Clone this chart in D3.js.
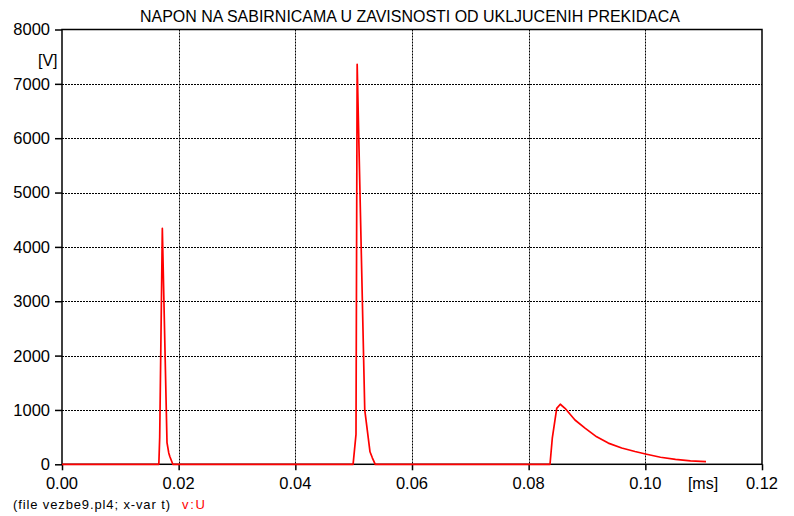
<!DOCTYPE html>
<html>
<head>
<meta charset="utf-8">
<script src="https://cdn.jsdelivr.net/npm/d3@7"></script>
<style>
  html, body { margin: 0; padding: 0; background: #fff; }
  svg { display: block; }
  text { font-family: "Liberation Sans", Arial, sans-serif; fill: #000; }
</style>
</head>
<body>
<svg id="chart" width="794" height="516"></svg>
<script>
// Bus voltage v:U versus time (EMTP plot file vezbe9.pl4)
const titleText = "NAPON NA SABIRNICAMA U ZAVISNOSTI OD UKLJUCENIH PREKIDACA";
const footerText = "(file vezbe9.pl4; x-var t)";
const seriesName = "v:U";
const yUnit = "[V]";
const xUnit = "[ms]";

const xTicks = [0, 0.02, 0.04, 0.06, 0.08, 0.10, 0.12];
const xTickLabels = ["0.00", "0.02", "0.04", "0.06", "0.08", "0.10", "0.12"];
const yTicks = [0, 1000, 2000, 3000, 4000, 5000, 6000, 7000, 8000];

// time [ms]
const timeMs = [
  0, 0.0166, 0.01675, 0.0172, 0.0180, 0.0183, 0.0185, 0.0190,
  0.0499, 0.0504, 0.0506, 0.0519, 0.0528, 0.0532, 0.0537,
  0.08366, 0.08405, 0.08481, 0.08542, 0.08623, 0.08794, 0.08966, 0.09166,
  0.09365, 0.09595, 0.09823, 0.10003, 0.10260, 0.10517, 0.10774, 0.11040
];
// voltage [V]
const voltageV = [
  0, 0, 500, 4340, 400, 210, 140, 0,
  0, 550, 7360, 1000, 230, 120, 0,
  0, 480, 1030, 1105, 1030, 815, 665, 505,
  390, 300, 235, 190, 130, 90, 62, 48
];

const svg = d3.select("#chart");
const plotL = 62, plotR = 762, plotT = 29.5, plotB = 464.3;

const x = d3.scaleLinear().domain([0, 0.12]).range([plotL, plotR]);
const y = d3.scaleLinear().domain([0, 8000]).range([plotB, plotT]);

// dotted grid
svg.append("g")
  .selectAll("line")
  .data(xTicks.slice(1, -1))
  .join("line")
  .attr("x1", d => Math.round(x(d)) + 0.5).attr("x2", d => Math.round(x(d)) + 0.5)
  .attr("y1", plotT).attr("y2", plotB)
  .attr("stroke", "#000").attr("stroke-width", 1).attr("stroke-dasharray", "2,1");
svg.append("g")
  .selectAll("line")
  .data(yTicks.slice(1, -1))
  .join("line")
  .attr("x1", plotL).attr("x2", plotR)
  .attr("y1", d => Math.round(y(d)) + 0.5).attr("y2", d => Math.round(y(d)) + 0.5)
  .attr("stroke", "#000").attr("stroke-width", 1).attr("stroke-dasharray", "2,1");

// axes
const xAxis = d3.axisBottom(x).tickValues(xTicks).tickSize(6).tickFormat("");
const yAxis = d3.axisLeft(y).tickValues(yTicks).tickSize(7).tickFormat("");
const gx = svg.append("g").attr("transform", `translate(0,${plotB})`).call(xAxis);
const gy = svg.append("g").attr("transform", `translate(${plotL},0)`).call(yAxis);
[gx, gy].forEach(g => {
  g.select(".domain").remove();
  g.selectAll(".tick line").attr("stroke", "#000").attr("stroke-width", 1.5);
});

// frame
svg.append("rect")
  .attr("x", plotL).attr("y", plotT)
  .attr("width", plotR - plotL).attr("height", plotB - plotT)
  .attr("fill", "none").attr("stroke", "#000").attr("stroke-width", 1.5);

// tick labels
svg.append("g").selectAll("text")
  .data(yTicks)
  .join("text")
  .attr("x", 50).attr("y", d => y(d))
  .attr("dy", "0.36em")
  .attr("text-anchor", "end")
  .style("font-size", "16.5px")
  .text(d => d);
svg.append("g").selectAll("text")
  .data(xTicks)
  .join("text")
  .attr("x", d => x(d)).attr("y", 489)
  .attr("text-anchor", "middle")
  .style("font-size", "16.5px")
  .text((d, i) => xTickLabels[i]);

svg.append("text").attr("x", 57.5).attr("y", 66)
  .attr("text-anchor", "end").style("font-size", "16px").text(yUnit);
svg.append("text").attr("x", 703).attr("y", 489)
  .attr("text-anchor", "middle").style("font-size", "16px").text(xUnit);

// title
svg.append("text").attr("x", 140).attr("y", 22)
  .attr("textLength", 540).attr("lengthAdjust", "spacingAndGlyphs")
  .style("font-size", "16px").text(titleText);

// footer
svg.append("text").attr("x", 13).attr("y", 509)
  .attr("textLength", 157).attr("lengthAdjust", "spacing")
  .style("font-size", "13px").text(footerText);
svg.append("text").attr("x", 182).attr("y", 509)
  .attr("textLength", 23).attr("lengthAdjust", "spacing")
  .style("font-size", "13px").style("fill", "#ff0000").text(seriesName);

// voltage curve
const pts = timeMs.map((t, i) => [t, voltageV[i]]);
svg.append("path")
  .datum(pts)
  .attr("fill", "none")
  .attr("stroke", "#ff0000")
  .attr("stroke-width", 1.7)
  .attr("stroke-linejoin", "round")
  .attr("d", d3.line().x(d => x(d[0])).y(d => y(d[1])));
</script>
</body>
</html>
